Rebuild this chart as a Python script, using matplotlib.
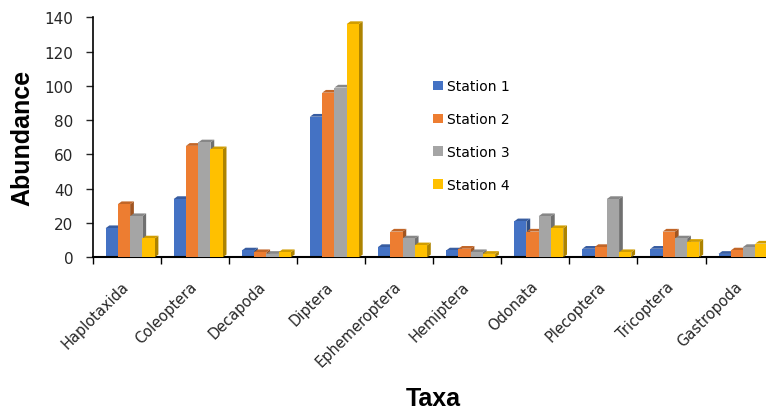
import numpy as np
import matplotlib.pyplot as plt
from matplotlib.patches import Polygon
from matplotlib.colors import to_rgb

taxa = ["Haplotaxida", "Coleoptera", "Decapoda", "Diptera", "Ephemeroptera",
        "Hemiptera", "Odonata", "Plecoptera", "Tricoptera", "Gastropoda"]
station1 = [17, 34, 4, 82, 6, 4, 21, 5, 5, 2]
station2 = [31, 65, 3, 96, 15, 5, 15, 6, 15, 4]
station3 = [24, 67, 2, 99, 11, 3, 24, 34, 11, 6]
station4 = [11, 63, 3, 136, 7, 2, 17, 3, 9, 8]
series = [station1, station2, station3, station4]
names = ["Station 1", "Station 2", "Station 3", "Station 4"]
colors = ["#4472C4", "#ED7D31", "#A5A5A5", "#FFC000"]

plt.rcParams['font.family'] = ['DejaVu Sans']

fig = plt.figure(figsize=(7.66, 4.14), dpi=100)
ax = fig.add_axes([0.121, 0.376, 0.889, 0.580])

x = np.arange(len(taxa))
w = 0.18
dx, dy = 0.055, 1.6


def shade(c, f):
    r, g, b = to_rgb(c)
    return (r * f, g * f, b * f)


for k, (vals, col, name) in enumerate(zip(series, colors, names)):
    lefts = x - 0.31 + k * w
    bars = ax.bar(lefts, vals, width=w, align='edge', color=col,
                  zorder=2 + k, label=name, linewidth=0)
    # fake 3d: side and top faces
    for bar in bars:
        x0 = bar.get_x()
        h = bar.get_height()
        side = Polygon([(x0 + w, 0), (x0 + w + dx, dy), (x0 + w + dx, h + dy), (x0 + w, h)],
                       closed=True, facecolor=shade(col, 0.68), edgecolor='none', zorder=1.9 + k)
        top = Polygon([(x0, h), (x0 + dx, h + dy), (x0 + w + dx, h + dy), (x0 + w, h)],
                      closed=True, facecolor=shade(col, 0.82), edgecolor='none', zorder=1.9 + k)
        ax.add_patch(side)
        ax.add_patch(top)

ax.set_xlim(-0.5, len(taxa) - 0.5)
ax.set_ylim(0, 140)
ax.set_yticks(range(0, 141, 20))
ax.tick_params(axis='y', labelsize=11, length=5, width=1, pad=9,
               direction='out', colors='#262626')

ax.set_xticks(np.arange(len(taxa) + 1) - 0.5)
ax.set_xticklabels([])
ax.tick_params(axis='x', which='major', length=5, width=1, direction='out')
ax.set_xticks(x, minor=True)
ax.set_xticklabels(taxa, minor=True, rotation=45, ha='right', va='center',
                   rotation_mode='anchor', fontsize=10.5, color='#262626')
ax.tick_params(axis='x', which='minor', length=0, pad=19)

for s in ['top', 'right']:
    ax.spines[s].set_visible(False)
ax.spines['left'].set_linewidth(1.2)
ax.spines['bottom'].set_linewidth(1.5)

fig.text(0.029, 0.667, "Abundance", rotation=90, ha='center', va='center',
         fontsize=18, fontweight='bold', family='Liberation Sans')
fig.text(0.566, 0.036, "Taxa", ha='center', va='center',
         fontsize=18, fontweight='bold', family='Liberation Sans')

ax.legend(loc='center left', bbox_to_anchor=(0.565, 0.670), bbox_transform=fig.transFigure,
          frameon=False, fontsize=10, handlelength=0.7, handleheight=0.7,
          handletextpad=0.35, labelspacing=1.35, borderpad=0, borderaxespad=0)

fig.savefig("out.png", dpi=100)
